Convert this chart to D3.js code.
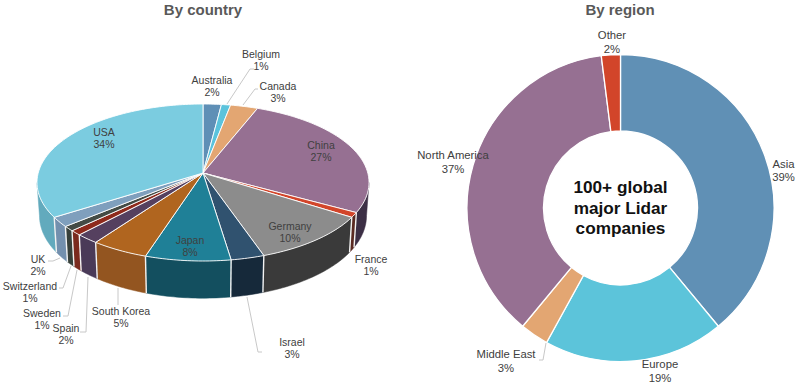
<!DOCTYPE html>
<html>
<head>
<meta charset="utf-8">
<script src="https://cdn.jsdelivr.net/npm/d3@7"></script>
<style>
  html, body { margin: 0; padding: 0; background: #fff; }
  svg { display: block; }
  text { font-family: "Liberation Sans", Arial, sans-serif; fill: #404040; text-anchor: middle; }
  .title { font-size: 15px; font-weight: bold; fill: #595959; }
  .leader { fill: none; stroke: #c8c8c8; stroke-width: 1; }
</style>
</head>
<body>
<div id="chart"></div>
<script>
// data
const countries = ['Australia', 'Belgium', 'Canada', 'China', 'France', 'Germany', 'Israel', 'Japan', 'South Korea', 'Spain', 'Sweden', 'Switzerland', 'UK', 'USA'];
const countryLabels = [2, 1, 3, 27, 1, 10, 3, 8, 5, 2, 1, 1, 2, 34];
// slice sizes as measured on the picture, the printed labels are rounded
const countryShares = [2, 1, 3, 27, 1, 10.7, 2.9, 7.4, 5, 2, 1, 1, 2, 34];
const regions = ['Asia', 'Europe', 'Middle East', 'North America', 'Other'];
const regionShares = [39, 19, 3, 37, 2];
const centerLines = ['100+ global', 'major Lidar', 'companies'];

const width = 800;
const height = 387;

const topColors = ['#5f8fb6', '#5bc3dc', '#e3a672', '#967092', '#d2452a', '#8c8c8c', '#30526f', '#1f8097', '#b0651f', '#55405f', '#8e2a1c', '#444b45', '#7f9fbd', '#7bcce0'];
const sideColors = ['#4a6f8e', '#46a0b5', '#b5835a', '#3c2f45', '#5a2a22', '#3a3a3a', '#16293a', '#134f5f', '#935520', '#4a3a58', '#7b2a1e', '#37403a', '#7390ae', '#62aabd'];
const regionColors = ['#6090b5', '#5cc4da', '#e3a672', '#967092', '#d2452a'];

const svg = d3.select('#chart').append('svg')
  .attr('width', width)
  .attr('height', height)
  .attr('viewBox', [0, 0, width, height]);

svg.append('text').attr('class', 'title').attr('x', 203).attr('y', 15).text('By country');
svg.append('text').attr('class', 'title').attr('x', 620).attr('y', 15).text('By region');

// tilted pie, projected from a flat circle so the apex sits above the ellipse centre
const apex = {x: 203, y: 173};
const radiusX = 164.8;
const radiusY = 77.35;
const tilt = 0.121;

const rim = (angle) => {
  const u = Math.sin(angle);
  const v = -Math.cos(angle);
  const w = 1 - tilt * v;
  return [apex.x + radiusX * u / w, apex.y + radiusY * v / w];
};
const lowerRim = (angle) => {
  const u = Math.sin(angle);
  const v = -Math.cos(angle);
  const w = 1 - tilt * v;
  return [apex.x + 0.985 * radiusX * u / w, apex.y + 0.985 * radiusY * v / w + 31 + 6 * Math.max(v, 0) + 1.5];
};

const sample = (a0, a1) => {
  const n = Math.max(2, Math.ceil((a1 - a0) / 0.02));
  return d3.range(n + 1).map(i => a0 + (a1 - a0) * i / n);
};

const pieCountry = d3.pie().sort(null).value(d => d)(countryShares);
const line = d3.line();

// side wall is only seen on the front half
const frontStart = 97 * Math.PI / 180;
const frontEnd = 263 * Math.PI / 180;

const walls = svg.append('g');
pieCountry.forEach((d, i) => {
  const a0 = Math.max(d.startAngle, frontStart);
  const a1 = Math.min(d.endAngle, frontEnd);
  if (a1 <= a0) return;
  const angles = sample(a0, a1);
  const pts = angles.map(rim).concat(angles.slice().reverse().map(lowerRim));
  walls.append('path')
    .attr('d', line(pts) + 'Z')
    .attr('fill', sideColors[i])
    .attr('stroke', sideColors[i])
    .attr('stroke-width', 0.5);
});
// white seams between the wall pieces
pieCountry.forEach(d => {
  if (d.endAngle <= frontStart || d.endAngle >= frontEnd) return;
  walls.append('path')
    .attr('d', line([rim(d.endAngle), lowerRim(d.endAngle)]))
    .attr('stroke', '#f2f2f2')
    .attr('stroke-width', 1.4);
});

svg.append('g').selectAll('path')
  .data(pieCountry)
  .join('path')
    .attr('d', d => line([[apex.x, apex.y]].concat(sample(d.startAngle, d.endAngle).map(rim))) + 'Z')
    .attr('fill', (d, i) => topColors[i])
    .attr('stroke', '#fff')
    .attr('stroke-width', 0.9)
    .attr('stroke-linejoin', 'round');

// donut
const donutCenter = {x: 620.5, y: 208};
const arc = d3.arc().innerRadius(77).outerRadius(153.5);
svg.append('g')
  .attr('transform', `translate(${donutCenter.x}, ${donutCenter.y})`)
  .selectAll('path')
  .data(d3.pie().sort(null).value(d => d)(regionShares))
  .join('path')
    .attr('d', arc)
    .attr('fill', (d, i) => regionColors[i])
    .attr('stroke', '#fff')
    .attr('stroke-width', 1.3);

svg.selectAll('.center-line')
  .data(centerLines)
  .join('text')
    .attr('class', 'center-line')
    .attr('x', donutCenter.x)
    .attr('y', (d, i) => 193 + i * 20.7)
    .style('font-size', '17.2px')
    .style('font-weight', 'bold')
    .style('fill', '#111')
    .text(d => d);

// leader lines
const leaders = [
  [[227, 104], [250, 69], [254, 69]],
  [[243, 105], [255, 89], [258, 89]],
  [[60, 258], [53, 261], [48, 261]],
  [[71, 266], [63, 288], [59, 288]],
  [[77, 270], [68, 316], [63, 316]],
  [[88, 277], [86, 332], [80, 332]],
  [[118, 288], [118, 305]],
  [[247, 297], [258, 352], [262, 352]],
  [[546, 343], [543, 360], [539, 360]]
];
svg.append('g').selectAll('path')
  .data(leaders)
  .join('path')
    .attr('class', 'leader')
    .attr('d', d => line(d));

// label placement: [x, baseline of first line]
const countryLabelPos = {
  Australia: [212, 84], Belgium: [261, 58], Canada: [278, 90], China: [321, 149],
  France: [371, 263], Germany: [290, 230], Israel: [292, 346], Japan: [190, 244],
  'South Korea': [121, 315], Spain: [66, 332], Sweden: [42, 317], Switzerland: [30, 290],
  UK: [38, 263], USA: [104, 136]
};
const regionLabelPos = {
  Asia: [783.5, 167.5], Europe: [660, 368], 'Middle East': [506, 358],
  'North America': [453, 159], Other: [612, 39]
};

const addLabel = (name, share, pos, size, gap) => {
  const label = svg.append('text').style('font-size', size + 'px');
  label.append('tspan').attr('x', pos[0]).attr('y', pos[1]).text(name);
  label.append('tspan').attr('x', pos[0]).attr('y', pos[1] + gap).text(share + '%');
};
countries.forEach((name, i) => addLabel(name, countryLabels[i], countryLabelPos[name], 10.5, 12));
regions.forEach((name, i) => addLabel(name, regionShares[i], regionLabelPos[name], 11.3, 13.6));
</script>
</body>
</html>
